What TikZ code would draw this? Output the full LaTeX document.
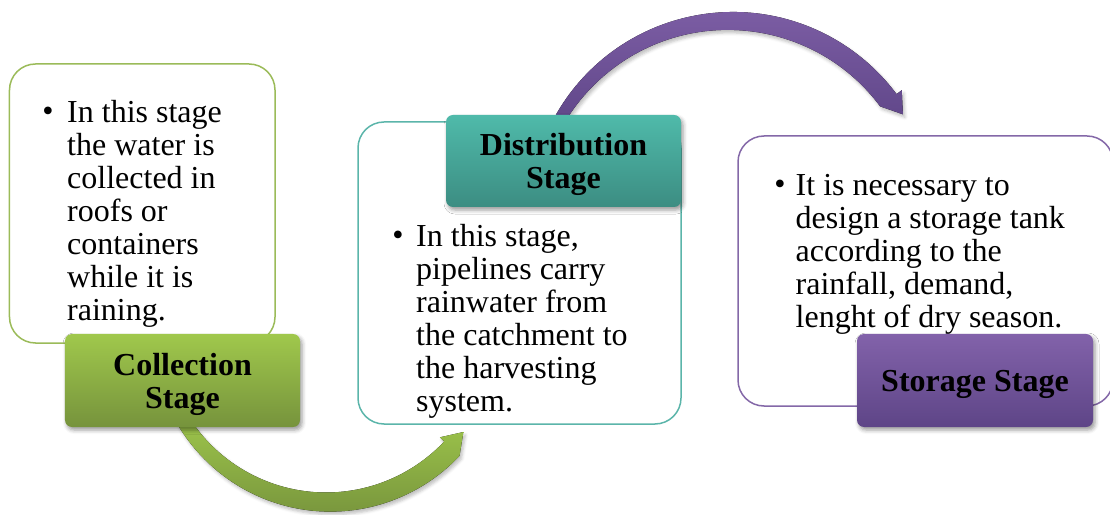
\documentclass[tikz,border=0pt]{standalone}
\usepackage{fontspec}
\setmainfont{Liberation Serif}
\usetikzlibrary{shadows.blur}
\definecolor{grnB}{HTML}{9BBB59}
\definecolor{grnT}{HTML}{A0C84C}
\definecolor{grnD}{HTML}{76933C}
\definecolor{tealB}{HTML}{5BB5AA}
\definecolor{tealT}{HTML}{4FBAAA}
\definecolor{tealD}{HTML}{3C8D82}
\definecolor{purB}{HTML}{8468A8}
\definecolor{purT}{HTML}{8262AA}
\definecolor{purD}{HTML}{5E4587}
\begin{document}
\begin{tikzpicture}[x=1bp,y=1bp,
  box/.style={draw, line width=1.5bp, rounded corners=26bp, inner sep=0pt, fill=white},
  lab/.style={rounded corners=7bp, inner sep=0pt, align=center, text depth=0pt,
    font=\fontsize{32bp}{33bp}\selectfont\bfseries,
    blur shadow={shadow xshift=2bp, shadow yshift=-3bp, shadow opacity=40, shadow blur radius=4bp}},
  body/.style={anchor=north west, inner sep=0pt, align=left, font=\fontsize{32bp}{33bp}\selectfont},
  bul/.style={anchor=base, inner sep=0pt, font=\fontsize{32bp}{33bp}\selectfont},
  arrowshade/.style={blur shadow={shadow xshift=2bp, shadow yshift=-3bp, shadow opacity=25, shadow blur radius=3bp}}]
\useasboundingbox (0,0) rectangle (1110,-515);
\clip (0,0) rectangle (1110,-515);

% Collection stage
\node[box, draw=grnB, minimum width=265.5bp, minimum height=279bp] (c1) at (142.25,-203.5) {};
\node[bul] (b1) at (48,-122) {•};
\node[body] (t1) at (67,-98.9) {\strut In this stage\\the water is\\collected in\\roofs or\\containers\\while it is\\raining.};

% green arrow
\coordinate (g0) at (326,-330);
\begin{scope}[shift={(g0)}]
\fill[arrowshade, top color=grnT, bottom color=grnD]
  (210:162.5) arc[start angle=210, end angle=316.7, radius=162.5]
  -- (316.7:156.5) -- (137.4,-102.0) -- (316.7:183.5)
  arc[start angle=316.7, end angle=210, radius=177.5] -- cycle;
\end{scope}

\node[lab, top color=grnT, bottom color=grnD, minimum width=235bp, minimum height=93bp] (l1) at (182.5,-380.5) {Collection\\Stage};

% Distribution stage
\node[box, draw=tealB, minimum width=323bp, minimum height=302bp] (c2) at (519.5,-273) {};
\node[bul] (b2) at (398,-246) {•};
\node[body] (t2) at (416,-222.9) {\strut In this stage,\\pipelines carry\\rainwater from\\the catchment to\\the harvesting\\system.};

% purple arrow
\coordinate (p0) at (733,-216);
\begin{scope}[shift={(p0)}]
\fill[arrowshade, top color=purT, bottom color=purD]
  (152:204) arc[start angle=152, end angle=36.7, radius=204]
  -- (36.7:210.5) -- (169.9,101.7) -- (36.7:183.5)
  arc[start angle=36.7, end angle=152, radius=190] -- cycle;
\end{scope}

\node[lab, top color=tealT, bottom color=tealD, minimum width=235bp, minimum height=92bp] (l2) at (563.5,-161) {Distribution\\Stage};

% Storage stage
\node[box, draw=purB, minimum width=375bp, minimum height=270bp] (c3) at (925.5,-271) {};
\node[bul] (b3) at (780,-195) {•};
\node[body] (t3) at (795.5,-171.9) {\strut It is necessary to\\design a storage tank\\according to the\\rainfall, demand,\\lenght of dry season.};
\node[lab, top color=purT, bottom color=purD, minimum width=236bp, minimum height=93bp] (l3) at (975,-380.5) {Storage Stage};
\end{tikzpicture}
\end{document}
